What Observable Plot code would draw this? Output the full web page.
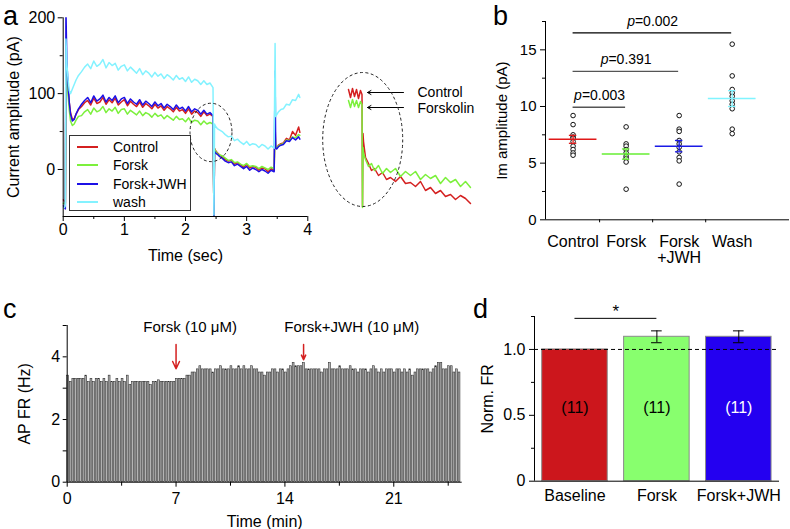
<!DOCTYPE html>
<html><head><meta charset="utf-8">
<script src="https://cdn.jsdelivr.net/npm/d3@7"></script>
<script src="https://cdn.jsdelivr.net/npm/@observablehq/plot@0.6"></script>
<style>
body{margin:0;background:#fff;}
#fig{position:relative;width:790px;height:529px;font-family:"Liberation Sans",Arial,sans-serif;overflow:hidden;background:#fff;}
.plab{position:absolute;font-size:27px;line-height:normal;color:#000;}
</style></head><body><div id="fig"></div>
<script>
// ---------- Panel a: current traces ----------
const timeA = [0, 0.02, 0.035, 0.045, 0.06, 0.08, 0.10, 0.12, 0.15, 0.18, 0.21, 0.25,
  0.30, 0.35, 0.40, 0.45, 0.50, 0.55, 0.60, 0.65, 0.70, 0.75, 0.80, 0.85, 0.90, 0.95, 1.00, 1.05, 1.10, 1.15, 1.20, 1.25, 1.30, 1.35, 1.40, 1.45, 1.50, 1.55, 1.60, 1.65, 1.70, 1.75, 1.80, 1.85, 1.90, 1.95, 2.00, 2.05, 2.10, 2.15, 2.20, 2.25, 2.30, 2.35, 2.40, 2.45,
  2.465, 2.475, 2.49, 2.52, 2.56,
  2.60, 2.65, 2.70, 2.75, 2.80, 2.85, 2.90, 2.95, 3.00, 3.05, 3.10, 3.15, 3.20, 3.25, 3.30, 3.35, 3.40, 3.45,
  3.465, 3.475, 3.49, 3.52, 3.56,
  3.60, 3.65, 3.70, 3.75, 3.80, 3.85, 3.87];
const controlA = [-40, -42, -44, 150, 130, 105, 88, 75, 66, 67, 73, 79,
  83, 88, 91, 85, 94, 87, 89, 95, 86, 92, 88, 94, 85, 89, 92, 84, 90, 86, 83, 89, 82, 87, 84, 80, 86, 81, 84, 78, 83, 80, 76, 82, 77, 79, 74, 80, 73, 77, 75, 70, 76, 71, 73, 70,
  -60, 28, 25, 22, 19,
  17, 13, 11, 12, 7, 9, 6, 3, 7, 2, 4, 3, -1, 2, 1, -3, 1, -1,
  60, 30, 28, 32, 34,
  35, 41, 39, 50, 45, 56, 49];
const forskA = [-45, -44, -46, 130, 120, 98, 78, 64, 58, 60, 65, 70,
  71, 76, 79, 73, 81, 76, 78, 83, 75, 80, 77, 82, 74, 79, 80, 73, 78, 75, 72, 77, 71, 75, 73, 69, 74, 70, 72, 67, 71, 68, 65, 70, 66, 67, 63, 68, 62, 65, 64, 59, 64, 60, 62, 60,
  -60, 27, 24, 21, 19,
  18, 15, 12, 13, 9, 10, 7, 5, 8, 4, 5, 4, 1, 4, 2, 0, 3, 1,
  50, 30, 29, 31, 33,
  34, 39, 38, 43, 42, 46, 45];
const jwhA = [-48, -50, -52, 210, 140, 112, 88, 73, 64, 66, 73, 80,
  86, 91, 95, 88, 97, 90, 93, 98, 89, 95, 91, 97, 88, 93, 95, 87, 93, 89, 86, 92, 85, 90, 87, 83, 89, 84, 87, 81, 86, 83, 79, 85, 80, 82, 77, 83, 76, 80, 78, 73, 78, 73, 75, 71,
  -62, 24, 22, 20, 17,
  15, 11, 9, 10, 5, 7, 4, 1, 4, -1, 2, 0, -3, 0, -2, -5, -1, -3,
  130, 28, 27, 30, 32,
  33, 38, 37, 42, 39, 43, 40];
const washA = [-50, -50, -48, 172, 140, 118, 104, 100, 106, 112, 118, 124,
  129, 135, 139, 133, 143, 136, 139, 145, 134, 141, 137, 140, 131, 136, 138, 130, 135, 131, 127, 133, 125, 130, 127, 122, 128, 123, 126, 120, 125, 122, 118, 124, 119, 121, 116, 122, 115, 119, 117, 112, 117, 112, 114, 108,
  -60, 60, 57, 54, 52,
  50, 46, 43, 44, 38, 40, 36, 33, 37, 32, 34, 33, 29, 33, 31, 27, 31, 28,
  166, 70, 72, 76, 79,
  80, 86, 85, 92, 91, 99, 95];
const traceNames = ["Control", "Forsk", "Forsk+JWH", "wash"];

// inset (magnified step, arbitrary units)
const insetT = [38, 40, 42, 44, 46, 48, 50, 51.5, 52, 52.5, 53, 55, 58, 61, 64, 68, 72, 76, 80, 85, 90, 95, 100, 105, 110, 115, 120, 125, 130, 135, 140, 145, 150, 155, 160];
const insetControl = [46, 38, 47, 39, 46, 37, 45, 41, -71, 2, -6, -22, -28, -35, -33, -40, -37, -44, -42, -46, -41, -48, -47, -51, -46, -55, -52, -58, -55, -61, -59, -64, -60, -63, -68];
const insetForsk = [35, 28, 36, 29, 35, 28, 34, 31, -72, -12, -18, -24, -31, -28, -35, -30, -38, -33, -37, -33, -41, -36, -40, -36, -44, -39, -43, -40, -48, -42, -47, -44, -51, -46, -52];
const insetLabels = ["Control", "Forskolin"];

// ---------- Panel b ----------
const bGroups = ["Control", "Forsk", "Forsk\n+JWH", "Wash"];
const bControl = [9.2, 8.4, 7.5, 7.3, 7.2, 6.9, 6.5, 6.2, 5.9, 5.7];
const bForsk = [8.2, 6.7, 6.5, 6.2, 5.9, 5.6, 5.4, 5.1, 2.7];
const bJwh = [9.2, 8.0, 7.8, 7.0, 6.7, 6.4, 6.0, 5.5, 5.2, 3.15];
const bWash = [15.5, 12.7, 11.5, 11.2, 10.9, 10.5, 10.2, 9.8, 8.0, 7.6];
const bMean = [7.1, 5.8, 6.5, 10.7];
const bSem = [0.35, 0.45, 0.5, 0.7];
const bCompareTo = [2, 3, 4];
const bPvalues = ["0.003", "0.391", "0.002"];

// ---------- Panel c ----------
const frValues = [
  3.4, 3.2, 3.3, 3.3, 3.3, 3.3,
  3.3, 3.4, 3.2, 3.3, 3.2, 3.3,
  3.3, 3.2, 3.3, 3.2, 3.4, 3.2,
  3.2, 3.3, 3.2, 3.3, 3.2, 3.4,
  3.1, 3.2, 3.2, 3.2, 3.2, 3.2,
  3.2, 3.2, 3.1, 3.2, 3.2, 3.25,
  3.2, 3.2, 3.2, 3.2, 3.2, 3.2,
  3.3, 3.3, 3.3, 3.3, 3.4, 3.4,
  3.5, 3.5, 3.6, 3.7, 3.6, 3.6,
  3.6, 3.6, 3.5, 3.6, 3.6, 3.7,
  3.6, 3.6, 3.6, 3.7, 3.6, 3.6,
  3.7, 3.6, 3.7, 3.6, 3.6, 3.7,
  3.6, 3.6, 3.5, 3.5, 3.4, 3.5,
  3.5, 3.6, 3.6, 3.5, 3.6, 3.6,
  3.5, 3.6, 3.7, 3.8, 3.7, 3.7,
  3.7, 3.8, 3.6, 3.6, 3.6, 3.6,
  3.6, 3.6, 3.5, 3.6, 3.6, 3.8,
  3.6, 3.6, 3.6, 3.7, 3.6, 3.6,
  3.6, 3.7, 3.6, 3.6, 3.5, 3.6,
  3.6, 3.6, 3.5, 3.6, 3.7, 3.6,
  3.5, 3.6, 3.5, 3.6, 3.6, 3.6,
  3.5, 3.6, 3.6, 3.5, 3.6, 3.5,
  3.6, 3.4, 3.5, 3.6, 3.6, 3.6,
  3.6, 3.6, 3.5, 3.6, 3.7, 3.8,
  3.8, 3.6, 3.6, 3.7, 3.7, 3.5,
  3.6, 3.5];
const binMinutes = 1 / 6;
const eventLabels = ["Forsk (10 \u03bcM)", "Forsk+JWH (10 \u03bcM)"];
const eventTimes = [7.0, 15.2];

// ---------- Panel d ----------
const dGroups = ["Baseline", "Forsk", "Forsk+JWH"];
const dMean = [1.0, 1.096, 1.096];
const dSem = [0, 0.045, 0.045];
const dN = [11, 11, 11];

// ---------- styles ----------
const FONT = '"Liberation Sans", Arial, Helvetica, sans-serif';
const traceColors = ["#d42020", "#7cf03c", "#1c10e6", "#84f2ff"];
const bColors = ["#e01818", "#66ee33", "#1a1ae6", "#80f4ff"];
const dColors = ["#cc161c", "#88ff6e", "#2400f0"];
const dTextColors = ["#000", "#000", "#fff"];
const st = (size) => ({fontFamily: FONT, fontSize: size + "px", background: "transparent", overflow: "visible", maxWidth: "none", color: "#000"});
const fig = document.getElementById("fig");
function place(node, left, top) {
  node.style.position = "absolute"; node.style.left = left + "px"; node.style.top = top + "px";
  fig.appendChild(node); return node;
}
function addEllipse(chart, cx, cy, rxU, ryU) {
  const sx = chart.scale("x"), sy = chart.scale("y");
  const px = sx.apply(cx), py = sy.apply(cy);
  const rx = Math.abs(sx.apply(cx + rxU) - px), ry = Math.abs(sy.apply(cy + ryU) - py);
  d3.select(chart).append("ellipse").attr("cx", px).attr("cy", py).attr("rx", rx).attr("ry", ry)
    .attr("fill", "none").attr("stroke", "#222").attr("stroke-width", 1).attr("stroke-dasharray", "3,2.5");
}
function panelLetter(t, left, top) {
  const d = document.createElement("div"); d.className = "plab"; d.textContent = t;
  d.style.left = left + "px"; d.style.top = top + "px"; fig.appendChild(d);
}
const plain = d => String(d);

// ---------- build panel a ----------
const traceData = [];
[controlA, forskA, jwhA, washA].forEach((arr, k) => arr.forEach((v, i) => traceData.push({t: timeA[i], v, s: traceNames[k]})));
const chartA = Plot.plot({
  width: 320, height: 260, marginLeft: 62.7, marginRight: 12.7, marginTop: 17.3, marginBottom: 44,
  style: st(16),
  x: {domain: [0, 4]},
  y: {domain: [-62, 200]},
  color: {domain: traceNames, range: traceColors},
  marks: [
    Plot.line(traceData, {x: "t", y: "v", z: "s", stroke: "s", strokeWidth: 1.5, clip: true}),
    Plot.ruleX([0], {stroke: "#000"}),
    Plot.ruleY([-62], {stroke: "#000"}),
    Plot.axisX({ticks: [0, 1, 2, 3, 4], tickSize: 5, tickPadding: 2, tickFormat: plain, label: "Time (sec)", labelAnchor: "center", labelOffset: 44, labelArrow: "none"}),
    Plot.axisX({ticks: [0.5, 1.5, 2.5, 3.5], tickSize: 3, tickFormat: () => "", label: null}),
    Plot.axisY({ticks: [0, 100, 200], tickSize: 5, tickPadding: 3, tickFormat: plain, label: "Current amplitude (pA)", labelAnchor: "center", labelOffset: 56, labelArrow: "none"}),
    Plot.axisY({ticks: [50, 150], tickSize: 3, tickFormat: () => "", label: null})
  ]
});
place(chartA, 0, 0);
addEllipse(chartA, 2.425, 48.2, 0.343, 38.5);

// legend of panel a
const leg = document.createElement("div");
leg.style.cssText = "position:absolute;left:69px;top:135px;width:122px;height:76px;border:1px solid #333;background:#fff;box-sizing:border-box;";
traceNames.forEach((n, k) => {
  const row = document.createElement("div");
  row.style.cssText = `position:absolute;left:0;top:${2 + k * 18.3}px;height:18px;width:120px;`;
  const ln = document.createElement("div");
  ln.style.cssText = `position:absolute;left:7px;top:8px;width:21px;height:2px;background:${traceColors[k]};`;
  const tx = document.createElement("div");
  tx.style.cssText = "position:absolute;left:43px;top:0;font-size:14px;line-height:18px;";
  tx.textContent = n;
  row.appendChild(ln); row.appendChild(tx); leg.appendChild(row);
});
fig.appendChild(leg);

// ---------- inset ----------
const insetData = [];
insetControl.forEach((v, i) => insetData.push({u: insetT[i], v, s: "Control"}));
insetForsk.forEach((v, i) => insetData.push({u: insetT[i], v, s: "Forskolin"}));
const arrowY = [43, 28];
const chartI = Plot.plot({
  width: 180, height: 150, marginLeft: 0, marginRight: 0, marginTop: 0, marginBottom: 0,
  style: st(14),
  x: {domain: [0, 180], axis: null},
  y: {domain: [-80, 70], axis: null},
  color: {domain: insetLabels, range: [traceColors[0], traceColors[1]]},
  marks: [
    Plot.line(insetData, {x: "u", y: "v", z: "s", stroke: "s", strokeWidth: 1.5}),
    Plot.arrow(insetLabels, {x1: 93, x2: 57, y1: (d, i) => arrowY[i], y2: (d, i) => arrowY[i], stroke: "#000", strokeWidth: 1, headLength: 6}),
    Plot.text(insetLabels, {x: 107, y: (d, i) => arrowY[i] - (i ? 1 : 0), text: d => d, textAnchor: "start", fill: "#000"})
  ]
});
place(chartI, 310, 65);
addEllipse(chartI, 52.7, -4.5, 40, 67);

// ---------- panel b ----------
const bData = [];
[bControl, bForsk, bJwh, bWash].forEach((arr, k) => arr.forEach(v => bData.push({g: k + 1, v})));
const bStats = bMean.map((m, k) => ({g: k + 1, m, lo: m - bSem[k], hi: m + bSem[k], c: bColors[k]}));
const sigY = [9.93, 13.1, 16.5];
const sigColor = ["#555", "#555", "#000"];
const sigRows = bCompareTo.map((g2, i) => ({x1: 1, x2: g2 - 0.01, y: sigY[i], mid: (1 + g2) / 2, p: bPvalues[i], c: sigColor[i]}));
const chartB = Plot.plot({
  width: 295, height: 270, marginLeft: 50, marginRight: 1, marginTop: 21, marginBottom: 50.7,
  style: st(16),
  x: {domain: [0.48, 5.08]},
  y: {domain: [0, 17.5]},
  color: {type: "identity"},
  marks: [
    Plot.ruleX([0.48], {stroke: "#000"}),
    Plot.ruleY([0], {stroke: "#000"}),
    Plot.axisY({ticks: [0, 5, 10, 15], tickSize: 5, tickPadding: 4, tickFormat: plain, fontSize: 15, label: "Im amplitude (pA)", labelAnchor: "center", labelOffset: 49, labelArrow: "none"}),
    Plot.axisY({ticks: [2.5, 7.5, 12.5, 17.5], tickSize: 3, tickFormat: () => "", label: null}),
    Plot.axisX({ticks: [1, 2, 3, 4], tickSize: 0, tickPadding: 16, tickFormat: (d) => bGroups[d - 1], label: null}),
    Plot.axisX({ticks: [1.5, 2.5, 3.5], tickSize: 3, tickFormat: () => "", label: null}),
    Plot.ruleY(sigRows, {x1: "x1", x2: "x2", y: "y", stroke: "c", strokeWidth: 1.4}),
    Plot.text(sigRows, {x: "mid", y: "y", dy: -11.7, dx: -25.5, text: () => "p", fontStyle: "italic", textAnchor: "start", fontSize: 14, fill: "#000"}),
    Plot.text(sigRows, {x: "mid", y: "y", dy: -11.7, dx: -17.7, text: d => "=" + d.p, textAnchor: "start", fontSize: 14, fill: "#000"}),
    Plot.dot(bData, {x: "g", y: "v", r: 2.3, stroke: "#111", fill: "#fff", strokeWidth: 1}),
    Plot.ruleY(bStats, {y: "m", x1: d => d.g - 0.45, x2: d => d.g + 0.45, stroke: "c", strokeWidth: 1.5}),
    Plot.ruleX(bStats, {x: "g", y1: "lo", y2: "hi", stroke: "c", strokeWidth: 1.3}),
    Plot.ruleY(bStats, {y: "lo", x1: d => d.g - 0.07, x2: d => d.g + 0.07, stroke: "c", strokeWidth: 1.3}),
    Plot.ruleY(bStats, {y: "hi", x1: d => d.g - 0.07, x2: d => d.g + 0.07, stroke: "c", strokeWidth: 1.3})
  ]
});
place(chartB, 495, 0);

// ---------- panel c ----------
const frData = frValues.map((v, i) => ({t0: i * binMinutes, t1: i * binMinutes + binMinutes * 0.72, v}));
const arrowTop = 4.39;
const arrowTips = [3.62, 3.91];
const labelX = [7.9, 18.3];
const chartC = Plot.plot({
  width: 470, height: 229, marginLeft: 66.7, marginRight: 8.3, marginTop: 25, marginBottom: 47.3,
  style: st(16),
  x: {domain: [0, 25.4]},
  y: {domain: [0, 5]},
  marks: [
    Plot.rectY(frData, {x1: "t0", x2: "t1", y: "v", fill: "#b4b4b4", stroke: "#262626", strokeWidth: 0.55}),
    Plot.ruleX([0], {stroke: "#000"}),
    Plot.ruleY([0], {stroke: "#000"}),
    Plot.axisX({ticks: [0, 7, 14, 21], tickSize: 5, tickPadding: 5, tickFormat: plain, label: "Time (min)", labelAnchor: "center", labelOffset: 44.6, labelArrow: "none"}),
    Plot.axisX({ticks: [3.5, 10.5, 17.5, 24.5], tickSize: 4, tickFormat: () => "", label: null}),
    Plot.axisY({ticks: [0, 2, 4], tickSize: 4, tickPadding: 3, tickFormat: plain, label: "AP FR (Hz)", labelAnchor: "center", labelOffset: 49, labelArrow: "none"}),
    Plot.axisY({ticks: [1, 3, 5], tickSize: 4, tickFormat: () => "", label: null}),
    Plot.arrow(eventTimes, {x1: d => d, x2: d => d, y1: arrowTop, y2: (d, i) => arrowTips[i], stroke: "#d42020", strokeWidth: 1.5, headLength: 9, headAngle: 50}),
    Plot.text(eventLabels, {x: (d, i) => labelX[i], y: 4.94, text: d => d, fontSize: 15, fill: "#000"})
  ]
});
place(chartC, 0, 300);

// ---------- panel d ----------
const dRows = dGroups.map((g, i) => ({i, g, m: dMean[i], lo: dMean[i] - dSem[i], hi: dMean[i] + dSem[i], sem: dSem[i], fill: dColors[i], tc: dTextColors[i], n: dN[i]}));
const dErr = dRows.filter(d => d.sem > 0);
const chartD = Plot.plot({
  width: 320, height: 229, marginLeft: 64, marginRight: 11, marginTop: 16, marginBottom: 48.3,
  style: st(16),
  x: {domain: [-0.494, 2.497]},
  y: {domain: [0, 1.25]},
  color: {type: "identity"},
  marks: [
    Plot.rectY(dRows, {x1: d => d.i - 0.4, x2: d => d.i + 0.4, y: "m", fill: "fill", stroke: "#8a8a8a", strokeWidth: 1}),
    Plot.ruleY([1], {stroke: "#000", strokeDasharray: "4,3", strokeWidth: 1}),
    Plot.ruleX(dErr, {x: "i", y1: "lo", y2: "hi", stroke: "#000", strokeWidth: 1}),
    Plot.ruleY(dErr, {y: "lo", x1: d => d.i - 0.065, x2: d => d.i + 0.065, stroke: "#000", strokeWidth: 1}),
    Plot.ruleY(dErr, {y: "hi", x1: d => d.i - 0.065, x2: d => d.i + 0.065, stroke: "#000", strokeWidth: 1}),
    Plot.text(dRows, {x: "i", y: 0.56, text: d => `(${d.n})`, fill: "tc", fontSize: 16}),
    Plot.ruleY([1.236], {x1: 0, x2: 1, stroke: "#000", strokeWidth: 1}),
    Plot.text(["*"], {x: 0.5, y: 1.29, text: d => d, fontSize: 17, fill: "#000"}),
    Plot.ruleX([-0.494], {stroke: "#000"}),
    Plot.ruleY([0], {stroke: "#000"}),
    Plot.axisX({ticks: [0, 1, 2], tickSize: 0, tickPadding: 8, tickFormat: d => dGroups[d], label: null}),
    Plot.axisY({ticks: [0, 0.5, 1], tickSize: 5, tickPadding: 4, tickFormat: d => d === 0 ? "0" : d.toFixed(1), label: "Norm. FR", labelAnchor: "center", labelOffset: 53, fontSize: 16, labelArrow: "none"}),
    Plot.axisY({ticks: [0.25, 0.75, 1.25], tickSize: 3, tickFormat: () => "", label: null})
  ]
});
place(chartD, 470, 300);

// panel letters
panelLetter("a", 3, 1);
panelLetter("b", 493, 1);
panelLetter("c", 3, 294);
panelLetter("d", 473, 294);
</script></body></html>
